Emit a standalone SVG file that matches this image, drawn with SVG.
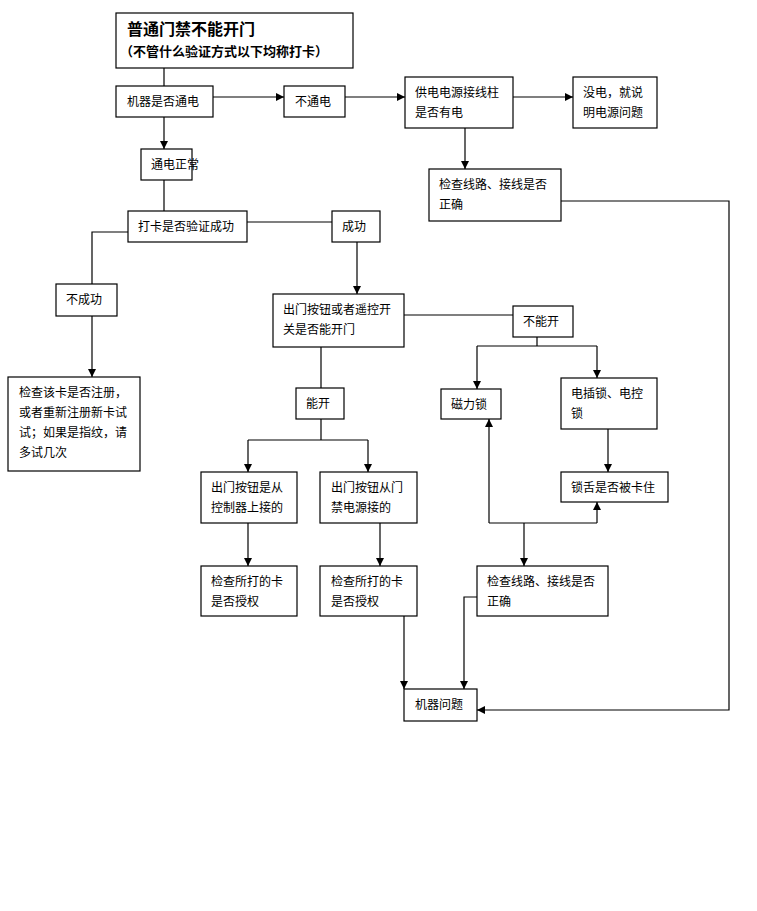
<svg xmlns="http://www.w3.org/2000/svg" width="757" height="911" viewBox="0 0 757 911">
<style>
.b{fill:#fff;stroke:#000;stroke-width:1.2}
.t{font-family:"Noto Sans CJK SC","Noto Sans",sans-serif;font-size:12px;fill:#000}
.c{fill:none;stroke:#000;stroke-width:1.2}
</style>
<defs>
<marker id="a" markerUnits="userSpaceOnUse" markerWidth="9" markerHeight="9" refX="8" refY="4" orient="auto"><path d="M0,0 L8,4 L0,8 z" fill="#000"/></marker>
</defs>
<rect width="757" height="911" fill="#fff"/>
<g id="connectors">
<path class="c" d="M164,68 V86"/>
<path class="c" d="M213,97 H284" marker-end="url(#a)"/>
<path class="c" d="M345,97 H405" marker-end="url(#a)"/>
<path class="c" d="M513,97 H573" marker-end="url(#a)"/>
<path class="c" d="M465,128 V169" marker-end="url(#a)"/>
<path class="c" d="M561,201 H729 V710 H477" marker-end="url(#a)"/>
<path class="c" d="M164,117 V149" marker-end="url(#a)"/>
<path class="c" d="M164,180 V211"/>
<path class="c" d="M247,222 H332"/>
<path class="c" d="M128,232 H92 V284"/>
<path class="c" d="M92,316 V377" marker-end="url(#a)"/>
<path class="c" d="M357,242 V294" marker-end="url(#a)"/>
<path class="c" d="M404,315 H513"/>
<path class="c" d="M537,337 V346 M477,346 H597"/>
<path class="c" d="M477,346 V389" marker-end="url(#a)"/>
<path class="c" d="M597,346 V378" marker-end="url(#a)"/>
<path class="c" d="M608,429 V472" marker-end="url(#a)"/>
<path class="c" d="M489,523 H597"/>
<path class="c" d="M489,523 V419" marker-end="url(#a)"/>
<path class="c" d="M597,523 V502" marker-end="url(#a)"/>
<path class="c" d="M524,523 V566" marker-end="url(#a)"/>
<path class="c" d="M477,597 H464 V689" marker-end="url(#a)"/>
<path class="c" d="M321,347 V388"/>
<path class="c" d="M321,419 V440 M248,440 H368"/>
<path class="c" d="M248,440 V472" marker-end="url(#a)"/>
<path class="c" d="M368,440 V472" marker-end="url(#a)"/>
<path class="c" d="M248,523 V566" marker-end="url(#a)"/>
<path class="c" d="M380,523 V566" marker-end="url(#a)"/>
<path class="c" d="M404,616 V689" marker-end="url(#a)"/>
</g>
<g id="title"><rect class="b" x="116" y="13" width="237" height="55"/>
<text class="t" x="127" y="35" style="font-size:16px;font-weight:bold">普通门禁不能开门</text>
<text class="t" x="120" y="56" style="font-size:13px;font-weight:bold">（不管什么验证方式以下均称打卡）</text></g>
<g id="n_power"><rect class="b" x="116" y="86" width="97" height="31"/><text class="t" x="127" y="106">机器是否通电</text></g>
<g id="n_nopower"><rect class="b" x="284" y="86" width="61" height="31"/><text class="t" x="295" y="106">不通电</text></g>
<g id="n_supply"><rect class="b" x="405" y="77" width="108" height="51"/><text class="t" x="415" y="97">供电电源接线柱</text><text class="t" x="415" y="117">是否有电</text></g>
<g id="n_nosupply"><rect class="b" x="573" y="77" width="84" height="51"/><text class="t" x="583" y="97">没电，就说</text><text class="t" x="583" y="117">明电源问题</text></g>
<g id="n_check1"><rect class="b" x="429" y="169" width="132" height="52"/><text class="t" x="439" y="189">检查线路、接线是否</text><text class="t" x="439" y="209">正确</text></g>
<g id="n_normal"><rect class="b" x="141" y="149" width="51" height="31"/><text class="t" x="151" y="169">通电正常</text></g>
<g id="n_card"><rect class="b" x="128" y="211" width="119" height="31"/><text class="t" x="138" y="231">打卡是否验证成功</text></g>
<g id="n_ok"><rect class="b" x="332" y="211" width="48" height="31"/><text class="t" x="342" y="231">成功</text></g>
<g id="n_fail"><rect class="b" x="56" y="284" width="61" height="32"/><text class="t" x="66" y="304">不成功</text></g>
<g id="n_register"><rect class="b" x="8" y="377" width="132" height="94"/><text class="t" x="19" y="397">检查该卡是否注册，</text><text class="t" x="19" y="417">或者重新注册新卡试</text><text class="t" x="19" y="437">试；如果是指纹，请</text><text class="t" x="19" y="457">多试几次</text></g>
<g id="n_exit"><rect class="b" x="273" y="294" width="131" height="53"/><text class="t" x="283" y="314">出门按钮或者遥控开</text><text class="t" x="283" y="334">关是否能开门</text></g>
<g id="n_cannot"><rect class="b" x="513" y="306" width="60" height="31"/><text class="t" x="523" y="326">不能开</text></g>
<g id="n_mag"><rect class="b" x="441" y="389" width="60" height="30"/><text class="t" x="451" y="409">磁力锁</text></g>
<g id="n_elock"><rect class="b" x="561" y="378" width="96" height="51"/><text class="t" x="571" y="398">电插锁、电控</text><text class="t" x="571" y="418">锁</text></g>
<g id="n_tongue"><rect class="b" x="561" y="472" width="107" height="30"/><text class="t" x="571" y="492">锁舌是否被卡住</text></g>
<g id="n_check2"><rect class="b" x="477" y="566" width="131" height="50"/><text class="t" x="487" y="586">检查线路、接线是否</text><text class="t" x="487" y="606">正确</text></g>
<g id="n_machine"><rect class="b" x="404" y="689" width="73" height="32"/><text class="t" x="415" y="709">机器问题</text></g>
<g id="n_can"><rect class="b" x="296" y="388" width="48" height="31"/><text class="t" x="306" y="408">能开</text></g>
<g id="n_ctrl"><rect class="b" x="201" y="472" width="96" height="51"/><text class="t" x="211" y="492">出门按钮是从</text><text class="t" x="211" y="512">控制器上接的</text></g>
<g id="n_psu"><rect class="b" x="320" y="472" width="97" height="51"/><text class="t" x="331" y="492">出门按钮从门</text><text class="t" x="331" y="512">禁电源接的</text></g>
<g id="n_auth1"><rect class="b" x="201" y="566" width="96" height="50"/><text class="t" x="211" y="586">检查所打的卡</text><text class="t" x="211" y="606">是否授权</text></g>
<g id="n_auth2"><rect class="b" x="320" y="566" width="97" height="50"/><text class="t" x="331" y="586">检查所打的卡</text><text class="t" x="331" y="606">是否授权</text></g>
</svg>
